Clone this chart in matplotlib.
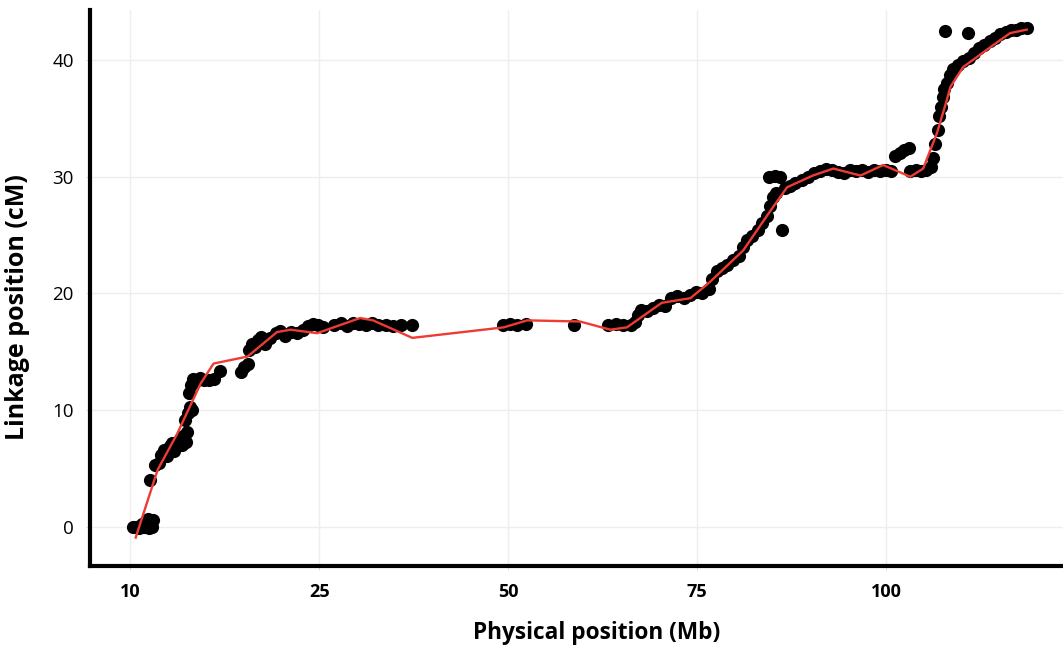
import numpy as np
import matplotlib.pyplot as plt

# marker positions (axis units)
pos_x = [0.3, 0.8, 1.2, 1.5, 1.8, 2.0, 2.3, 2.6, 2.9, 3.0, 2.5,
         2.6, 3.3, 3.8, 4.0, 4.5, 4.8, 5.2, 5.5, 5.8, 6.2, 6.5, 6.8, 7.0, 7.3, 7.5, 7.2, 7.6, 7.9, 8.2,
         7.8, 8.0, 8.3, 8.7, 9.2, 9.8, 10.4, 11.0, 11.9,
         14.6, 15.0, 15.5, 15.7, 16.1, 16.5, 16.9, 17.3, 17.8, 18.5, 19.2, 19.8, 20.5, 21.2, 22.0, 22.8,
         23.5, 24.2, 24.8, 25.5, 27.0, 27.8, 28.6, 29.5, 30.3, 31.2, 32.0, 32.8, 33.8, 34.8, 35.8, 37.3,
         49.3, 50.2, 51.2, 52.3, 58.7,
         63.2, 64.2, 65.2, 66.2, 66.8, 67.2, 67.6, 68.4, 69.2, 70.0, 70.8, 71.5, 72.3, 73.2, 74.0, 74.8,
         75.6, 76.5, 77.0, 77.6, 78.3, 79.0, 79.8, 80.5, 81.0, 81.6, 82.3, 83.0, 83.6, 84.2, 84.6, 85.0,
         85.4, 86.2,
         84.5, 85.3, 86.0, 86.6, 87.3, 88.0, 88.8, 89.6, 90.4, 91.2, 92.0, 92.8, 93.6, 94.4, 95.2, 96.0,
         96.8, 97.6, 98.4, 99.2, 100.0, 100.6, 101.2, 101.8, 102.4, 103.0, 103.2, 103.9, 104.6, 105.3,
         105.9, 106.2, 106.5, 106.8, 107.0, 107.3, 107.5, 107.7, 108.0, 108.4, 108.9, 109.5, 110.2,
         110.9, 111.6, 112.3, 113.0, 113.7, 114.4, 115.1, 115.8, 116.5, 117.2, 117.9, 118.6, 107.8, 110.8]
link_cm = [0.0, 0.0, -0.1, 0.3, 0.0, 0.5, 0.7, 0.3, 0.0, 0.6, -0.1,
           4.0, 5.3, 5.5, 6.2, 6.6, 6.1, 6.9, 7.2, 6.5, 7.0, 7.5, 7.0, 7.8, 7.3, 8.1, 9.2, 9.8, 10.3, 10.0,
           11.5, 12.2, 12.7, 12.5, 12.8, 12.6, 12.6, 12.7, 13.4,
           13.3, 13.7, 14.0, 15.2, 15.7, 15.4, 16.0, 16.3, 15.7, 16.2, 16.6, 16.8, 16.4, 16.7, 16.6, 16.9,
           17.2, 17.4, 17.3, 17.1, 17.3, 17.5, 17.2, 17.5, 17.4, 17.3, 17.5, 17.3, 17.3, 17.2, 17.3, 17.3,
           17.3, 17.4, 17.3, 17.4, 17.3,
           17.3, 17.4, 17.3, 17.3, 17.6, 18.2, 18.6, 18.5, 18.8, 19.0, 18.9, 19.6, 19.8, 19.6, 19.9, 20.1,
           20.0, 20.4, 21.2, 21.9, 22.2, 22.4, 22.9, 23.2, 24.0, 24.6, 24.9, 25.4, 26.0, 26.6, 27.5, 28.3,
           28.6, 25.4,
           30.0, 30.1, 30.0, 29.0, 29.2, 29.5, 29.7, 30.0, 30.3, 30.5, 30.7, 30.6, 30.4, 30.3, 30.6, 30.5,
           30.6, 30.4, 30.6, 30.5, 30.6, 30.5, 31.8, 32.0, 32.3, 32.5, 30.5, 30.6, 30.5, 30.6,
           30.8, 31.6, 32.8, 34.0, 35.2, 36.0, 36.8, 37.5, 38.0, 38.7, 39.2, 39.6, 39.9,
           40.2, 40.6, 41.0, 41.3, 41.6, 41.9, 42.2, 42.4, 42.6, 42.6, 42.7, 42.7, 42.5, 42.3]

# smoothed fit (red line)
fit_x = [0.7, 3.6, 6.2, 9.3, 11.0, 15.5, 19.4, 21.2, 24.7, 30.4, 32.1, 37.3, 49.4, 52.5, 59.5,
         63.5, 65.7, 70.3, 74.1, 76.7, 81.1, 84.7, 86.9, 90.3, 93.0, 96.6, 99.6, 103.2, 104.9,
         106.7, 108.0, 108.5, 110.2, 113.8, 116.4, 118.6]
fit_y = [-0.9, 4.9, 8.0, 12.3, 14.0, 14.6, 16.7, 16.9, 16.6, 17.9, 17.7, 16.2, 17.1, 17.7, 17.6,
         16.9, 17.1, 19.2, 19.6, 21.0, 23.7, 27.1, 29.1, 30.1, 30.7, 30.1, 31.0, 30.0, 30.7,
         33.7, 36.5, 37.7, 39.4, 41.1, 42.3, 42.6]

x_ticks = [0, 25, 50, 75, 100]
x_labels = ['10', '25', '50', '75', '100']
y_ticks = [0, 10, 20, 30, 40]

plt.rcParams['font.family'] = ['Open Sans', 'DejaVu Sans']

fig = plt.figure(figsize=(10.63, 6.5), dpi=100)
ax = fig.add_axes([0.085, 0.129, 0.915, 0.856])

ax.scatter(pos_x, link_cm, s=90, color='black', zorder=3, linewidths=0)
ax.plot(fit_x, fit_y, color='#ee3b33', lw=1.7, zorder=4)

ax.set_xlim(-5.3, 123.4)
ax.set_ylim(-3.35, 44.3)
ax.set_xticks(x_ticks)
ax.set_xticklabels(x_labels, fontweight='bold', fontsize=13)
ax.set_yticks(y_ticks)
ax.set_yticklabels([str(v) for v in y_ticks], fontsize=13.5)
ax.tick_params(axis='both', length=3, color='#dddddd', pad=9)
ax.grid(True, color='#eeeeee', lw=1)
ax.set_axisbelow(True)

for side in ['top', 'right']:
    ax.spines[side].set_visible(False)
for side in ['left', 'bottom']:
    ax.spines[side].set_linewidth(3)
    ax.spines[side].set_color('black')

ax.set_xlabel('Physical position (Mb)', fontweight='bold', fontsize=16.3)
ax.xaxis.set_label_coords(0.52, -0.098)
ax.set_ylabel('Linkage position (cM)', fontweight='bold', fontsize=18)
ax.yaxis.set_label_coords(-0.062, 0.466)

fig.savefig('out.png', dpi=100)
